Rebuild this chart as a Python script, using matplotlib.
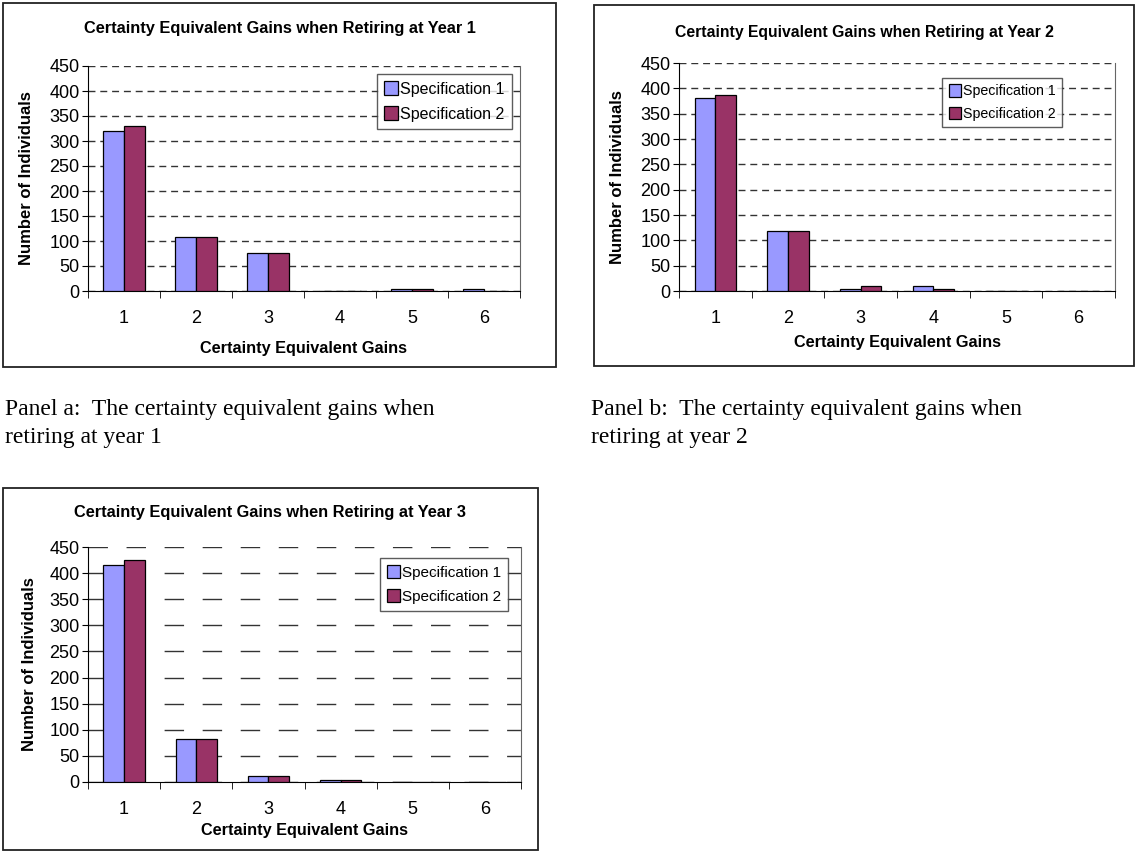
import matplotlib
matplotlib.use("Agg")
import matplotlib.pyplot as plt
from matplotlib.patches import Rectangle
import numpy as np

# counts of individuals per certainty-equivalent-gain bin
categories = [1, 2, 3, 4, 5, 6]
year1_spec1 = [320, 108, 76, 0, 5, 5]
year1_spec2 = [330, 108, 76, 0, 5, 1]
year2_spec1 = [381, 118, 4, 9, 0, 0]
year2_spec2 = [386, 118, 9, 4, 0, 0]
year3_spec1 = [416, 83, 12, 4, 0, 0]
year3_spec2 = [425, 83, 12, 4, 0, 0]
series_names = ["Specification 1", "Specification 2"]
yticks = list(range(0, 451, 50))

W, H = 1137, 852
fig = plt.figure(figsize=(W / 100, H / 100), dpi=100)
plt.rcParams["font.family"] = ["Liberation Sans", "DejaVu Sans"]

C1 = "#9999FF"
C2 = "#993366"


def px(x, y):
    return x / W, 1 - y / H


def frame(x0, y0, x1, y1):
    fig.patches.append(Rectangle((x0 / W, 1 - y1 / H), (x1 - x0) / W, (y1 - y0) / H,
                                 transform=fig.transFigure, fill=False,
                                 edgecolor="#222222", linewidth=1.3))


def panel(box, plot, title, title_y, ylab_x, xlab_y, s1, s2, dash, legend_box, fs=11.5, tfs=11.8):
    frame(*box)
    x0, y0, x1, y1 = plot
    ax = fig.add_axes([x0 / W, 1 - y1 / H, (x1 - x0) / W, (y1 - y0) / H])
    x = np.array(categories)
    w = 1 / 3.5
    ax.bar(x - w / 2, s1, w, color=C1, edgecolor="black", linewidth=0.9, label=series_names[0], zorder=3)
    ax.bar(x + w / 2, s2, w, color=C2, edgecolor="black", linewidth=0.9, label=series_names[1], zorder=3)
    ax.set_xlim(0.5, 6.5)
    ax.set_ylim(0, 450)
    ax.set_yticks(yticks)
    ax.set_xticks(categories)
    ax.set_xticks(np.arange(0.5, 7, 1), minor=True)
    ax.tick_params(axis="x", which="major", length=0, pad=14, labelsize=13)
    ax.tick_params(axis="x", which="minor", length=5, direction="out", color="black")
    ax.tick_params(axis="y", length=4, direction="out", pad=2, labelsize=13)
    ax.yaxis.grid(True, linestyle=(0, dash), color="#333333", linewidth=1, zorder=0)
    ax.spines["top"].set_visible(False)
    ax.spines["right"].set_color("#666666")
    for s in ("left", "bottom"):
        ax.spines[s].set_color("black")
    ax.set_axisbelow(True)

    cx = (box[0] + box[2]) / 2
    fig.text(*px(cx, title_y), title, ha="center", va="center", fontsize=tfs, fontweight="bold")
    fig.text(*px(ylab_x, (y0 + y1) / 2), "Number of Individuals", ha="center", va="center",
             rotation=90, fontsize=12, fontweight="bold")
    fig.text(*px((x0 + x1) / 2, xlab_y), "Certainty Equivalent Gains", ha="center", va="center",
             fontsize=11.7, fontweight="bold")

    lx1, ly0 = legend_box
    ax.legend(loc="upper right", bbox_to_anchor=px(lx1, ly0), bbox_transform=fig.transFigure,
              fontsize=fs, frameon=True, fancybox=False, edgecolor="#333333",
              handlelength=0.85, handleheight=0.95, handletextpad=0.15,
              borderpad=0.45, labelspacing=0.6, borderaxespad=0)
    return ax


panel((3, 3, 556, 367), (88, 66, 520, 291), "Certainty Equivalent Gains when Retiring at Year 1",
      28, 27, 349, year1_spec1, year1_spec2, (5, 3.5), (512, 74))
panel((594, 5, 1134, 366), (679, 63, 1115, 291), "Certainty Equivalent Gains when Retiring at Year 2",
      32, 617, 343, year2_spec1, year2_spec2, (5, 3.5), (1062, 78), fs=10.2, tfs=11.3)
panel((3, 488, 538, 850), (88, 547, 521, 782), "Certainty Equivalent Gains when Retiring at Year 3",
      512, 30, 830, year3_spec1, year3_spec2, (14, 13.4), (508, 558), fs=11)

# captions under the two upper panels
serif = ["Liberation Serif", "DejaVu Serif"]
fig.text(*px(5, 409), "Panel a:  The certainty equivalent gains when", ha="left", va="center",
         fontsize=17, family=serif)
fig.text(*px(5, 437), "retiring at year 1", ha="left", va="center", fontsize=17, family=serif)
fig.text(*px(591, 409), "Panel b:  The certainty equivalent gains when", ha="left", va="center",
         fontsize=17, family=serif)
fig.text(*px(591, 437), "retiring at year 2", ha="left", va="center", fontsize=17, family=serif)

fig.savefig("out.png", dpi=100)
